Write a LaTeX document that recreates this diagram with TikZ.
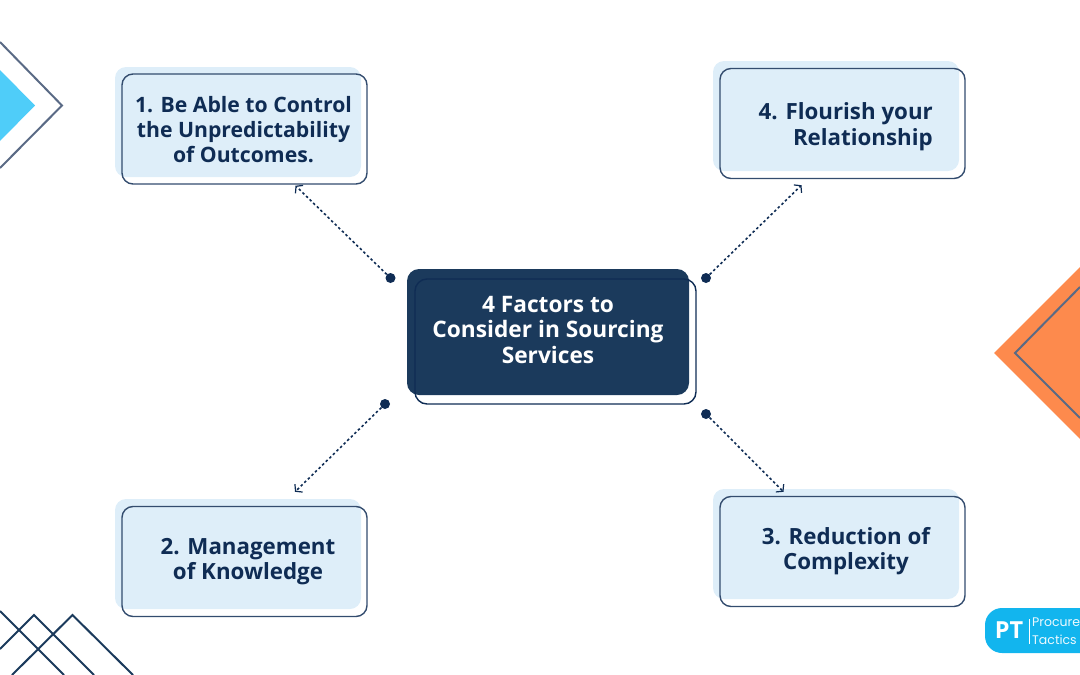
\documentclass[tikz,border=0pt]{standalone}
\usepackage{fontspec}
\setmainfont{Open Sans}
\newfontfamily\logofont{Poppins}
\usetikzlibrary{arrows.meta}
\definecolor{navy}{HTML}{1B3A5C}
\definecolor{inkblue}{HTML}{0F2C54}
\definecolor{paleblue}{HTML}{DEEEF9}
\definecolor{slateline}{HTML}{5A6A85}
\definecolor{skyblue}{HTML}{4FCDF9}
\definecolor{logoblue}{HTML}{12B5EE}
\definecolor{orangefill}{HTML}{FD8A4D}
\tikzset{
  backbox/.style={rectangle,rounded corners=11pt,fill=paleblue,minimum width=246pt,minimum height=110pt,inner sep=0pt},
  linebox/.style={rectangle,rounded corners=11pt,draw=inkblue!85!white,line width=1.4pt,minimum width=245pt,minimum height=110pt,inner sep=0pt},
  boxtext/.style={text=inkblue,inner sep=0pt,align=center,font=\bfseries\fontsize{22.3}{25.7}\selectfont},
  linkdot/.style={circle,fill=inkblue,minimum size=10pt,inner sep=0pt},
  linkarrow/.style={draw=inkblue,line width=1.6pt,dash pattern=on 2.5pt off 2.5pt,-{Straight Barb[length=4.5pt,width=11pt,line width=1.2pt,sep=0pt]}},
  logotext/.style={anchor=west,inner sep=0pt,text=white!92!logoblue,font=\logofont\fontsize{12.5}{14}\selectfont},
}
\begin{document}
\begin{tikzpicture}[x=1pt,y=-1pt]
        \useasboundingbox (0,0) rectangle (1080,675);

        % Corner shapes.
        \draw [fill=skyblue,draw=none] (0,70) -- (35,105.5) -- (0,141) -- cycle;
        \draw [slateline,line width=2pt] (0,42) -- (62,105.5) -- (0,168);
        \draw [fill=orangefill,draw=none] (1080,267) -- (994,353) -- (1080,439) -- cycle;
        \draw [slateline,line width=2pt] (1080,287) -- (1015,353) -- (1080,418);
        \draw [navy,line width=2pt] (0,611) -- (64,675);
        \draw [navy,line width=2pt] (0,649) -- (34,615) -- (94,675);
        \draw [navy,line width=2pt] (12,675) -- (72.5,615) -- (133,675);

        % Pale boxes behind the outlines.
        \draw (238,122) node (backA) [backbox] {};
        \draw (836,116) node (backD) [backbox] {};
        \draw (238,554) node (backB) [backbox] {};
        \draw (836,544) node (backC) [backbox] {};

        \draw (244.5,129) node (lineA) [linebox] {};
        \draw (842.5,123.5) node (lineD) [linebox] {};
        \draw (244.5,561.5) node (lineB) [linebox] {};
        \draw (842.5,551.5) node (lineC) [linebox] {};

        \draw (243.5,129.5) node (textA) [boxtext,font=\bfseries\fontsize{21.2}{25}\selectfont] {1. Be Able to Control\\the Unpredictability\\of Outcomes.};
        \draw (933,126.5) node (textD) [boxtext,anchor=east,align=right] {4. Flourish your\\Relationship\hspace{3pt}};
        \draw (248,561.5) node (textB) [boxtext] {2. Management\\of Knowledge};
        \draw (846,551) node (textC) [boxtext] {3. Reduction of\\Complexity};

        % Centre box.
        \draw (548,332) node (backM) [rectangle,rounded corners=12pt,fill=navy,minimum width=282pt,minimum height=126pt] {};
        \draw (555.5,341.5) node (lineM) [rectangle,rounded corners=12pt,draw=inkblue,line width=1.4pt,minimum width=281pt,minimum height=125pt] {};
        \draw (548,330) node (title) [boxtext,text=white,font=\bfseries\fontsize{22.7}{25.7}\selectfont] {4 Factors to\\Consider in Sourcing\\Services};

        % Dots and dotted links.
        \draw (390.5,278) node (dotA) [linkdot] {};
        \draw (706,278) node (dotD) [linkdot] {};
        \draw (385,404) node (dotB) [linkdot] {};
        \draw (706,414) node (dotC) [linkdot] {};
        \draw [linkarrow] (dotA) -- ([xshift=51pt,yshift=-1pt]lineA.south);
        \draw [linkarrow] (dotD) -- ([xshift=-41pt,yshift=-6pt]lineD.south);
        \draw [linkarrow] (dotB) -- ([xshift=50.5pt,yshift=14pt]lineB.north);
        \draw [linkarrow] (dotC) -- ([xshift=-59pt,yshift=4pt]lineC.north);

        % Logo.
        \draw (1055,630.5) node (logo) [rectangle,rounded corners=17pt,fill=logoblue,minimum width=140pt,minimum height=45pt] {};
        \draw (1009,630.5) node (logoPT) [inner sep=0pt,text=white,font=\bfseries\fontsize{23.5}{25}\selectfont] {PT};
        \draw [white,line width=0.5pt] (1029,619) -- (1029,644);
        \draw (1032,622) node (logoA) [logotext] {Procurement};
        \draw (1032,639.5) node (logoB) [logotext] {Tactics};
      \end{tikzpicture}
\end{document}
